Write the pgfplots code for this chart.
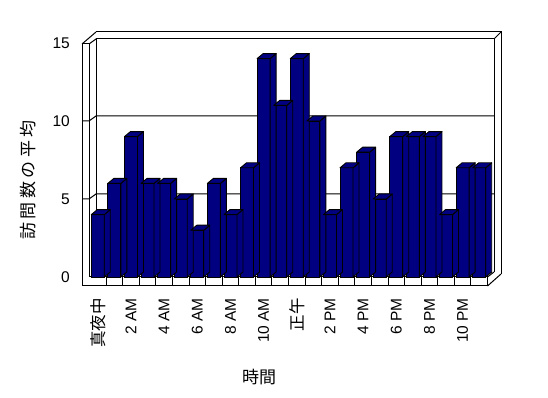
\documentclass[border=0pt]{standalone}
\usepackage{pgfplots}
\pgfplotsset{compat=1.18}
\usepackage{pgfplotstable}
\usepackage{fontspec}
\setmainfont{Liberation Sans}
\newfontfamily\cjk{Noto Sans CJK JP}
\newfontfamily\cjkwide[LetterSpace=20]{Noto Sans CJK JP}
\definecolor{barnavy}{RGB}{0,0,128}
\pgfdeclareplotmark{nothing}{}

\pgfplotstableread{
x v
0 4
1 6
2 9
3 6
4 6
5 5
6 3
7 6
8 4
9 7
10 14
11 11
12 14
13 10
14 4
15 7
16 8
17 5
18 9
19 9
20 9
21 4
22 7
23 7
}\visits

\begin{document}
\begin{tikzpicture}
\useasboundingbox (0,0) rectangle (548pt,398pt);
\fill[white] (0,0) rectangle (548pt,398pt);
\begin{scope}[x=1pt,y=-1pt,yshift=398pt,line width=1pt]
 % back wall outer
 \draw (96,32) -- (501,32) -- (501,274);
 \draw (494,39) -- (501,32);
 % back wall inner
 \draw (96,39) -- (494,39) -- (494,272);
 % left wall
 \draw (82,286) -- (82,44) -- (89,44) -- (89,277);
 \draw (96,39) -- (96,272);
 \draw (82,44) -- (96,32);
 \draw (89,44) -- (96,39);
 % gridlines
 \foreach \v in {5,10} {
   \draw (82,{277-15.6*\v}) -- (89,{277-15.6*\v}) -- (96,{272-15.6*\v}) -- (494,{272-15.6*\v});
 }
 % floor
 \draw (89,277) -- (487.5,277) -- (487.5,286) -- (82,286);
 \draw (487.5,277) -- (494,272);
 \draw (487.5,286) -- (501,274);
 \foreach \k in {1,...,23} {\draw ({89.5+16.583*\k},277) -- ({89.5+16.583*\k},286);}
\end{scope}
\begin{axis}[
  at={(89.5pt,121pt)}, anchor=south west,
  scale only axis, width=398pt, height=234pt,
  xmin=-0.5, xmax=23.5, ymin=0, ymax=15,
  clip=false,
  axis line style={draw=none},
  major tick length=0pt,
  ytick={0,5,10,15},
  /pgf/number format/assume math mode=true,
  yticklabel style={anchor=east, inner sep=0pt, xshift=-19.5pt, font=\fontsize{15.5}{18}\selectfont},
  xtick={0,2,...,22},
  xticklabels={{\fontsize{16.5}{18}\cjk 真夜中},2 AM,4 AM,6 AM,8 AM,10 AM,{\fontsize{16.5}{18}\cjk 正午},2 PM,4 PM,6 PM,8 PM,10 PM},
  xticklabel style={yshift=-21pt, rotate=90, anchor=east, inner sep=0pt, font=\fontsize{15.5}{18}\selectfont},
  xlabel={\cjk 時間},
  xlabel style={at={(axis description cs:0.426,-0.427)}, anchor=center, font=\fontsize{17}{20}\selectfont},
  ylabel={\cjkwide 訪問数の平均},
  ylabel style={at={(axis description cs:-0.1545,0.4145)}, anchor=center, font=\fontsize{17}{20}\selectfont},
]
\addplot[scatter, only marks, mark=nothing,
  visualization depends on={\thisrow{v} \as \val},
  scatter/@pre marker code/.code={%
    \pgfmathsetlengthmacro\h{\val*15.6pt}%
    \filldraw[fill=barnavy, draw=black, line width=0.9pt, line join=round] (6.5pt,0pt) -- ++(6pt,5pt) -- ++(0pt,-\h) -- ++(-6pt,-5pt) -- cycle;
    \filldraw[fill=barnavy, draw=black, line width=0.9pt, line join=round] (-6.5pt,0pt) -- ++(6pt,5pt) -- ++(13pt,0pt) -- ++(-6pt,-5pt) -- cycle;
  },
  scatter/@post marker code/.code={},
] table[x=x,y=v] {\visits};
\addplot[ybar, bar width=13pt, fill=barnavy, draw=black, line width=0.9pt] table[x=x,y=v] {\visits};
\end{axis}
\end{tikzpicture}
\end{document}
